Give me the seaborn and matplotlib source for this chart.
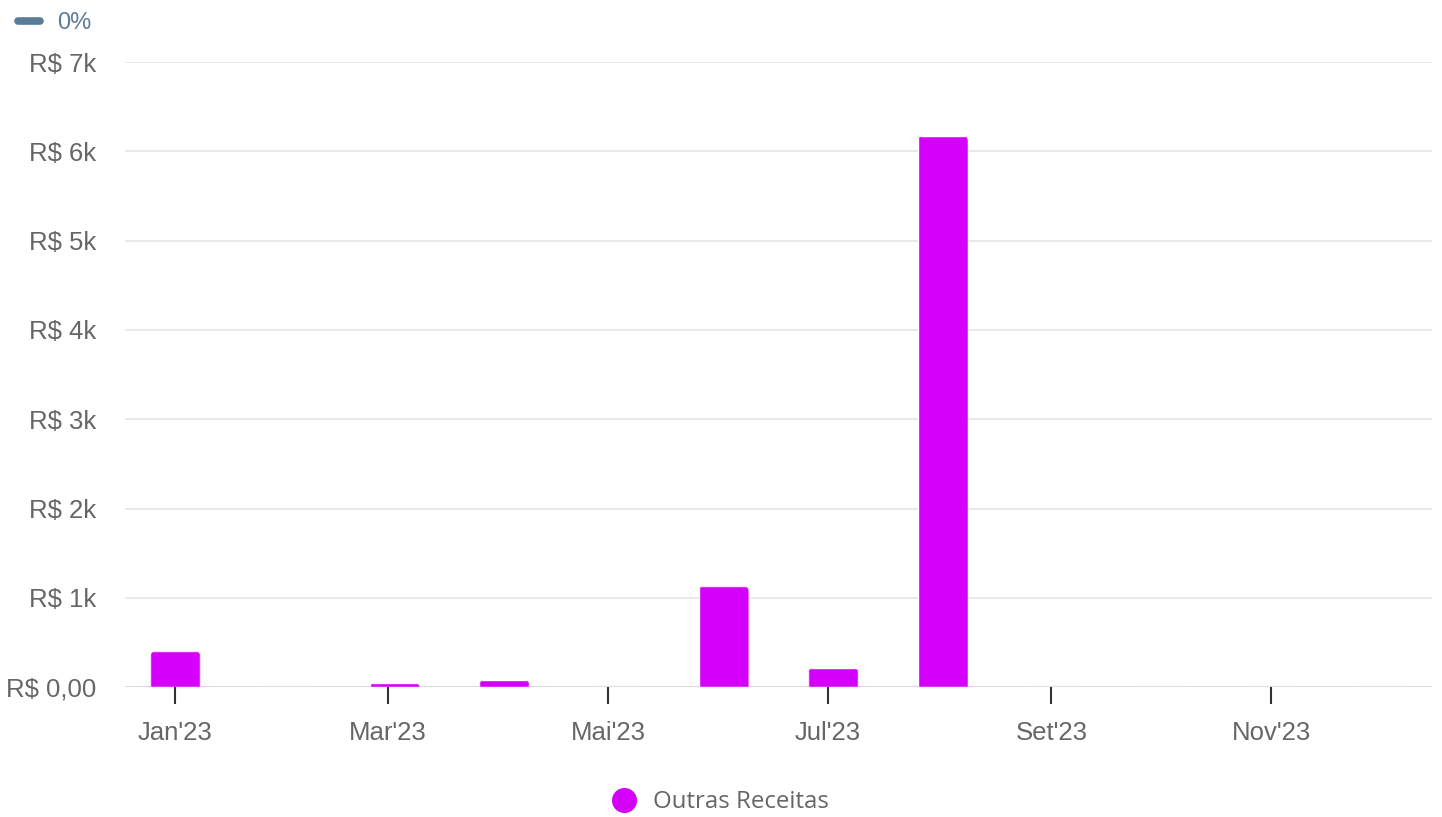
import matplotlib
matplotlib.use("Agg")
import matplotlib.pyplot as plt
import seaborn as sns
import pandas as pd
from matplotlib.lines import Line2D
from matplotlib.patches import FancyBboxPatch

# valores (R$)
meses = ["Jan'23", "Fev'23", "Mar'23", "Abr'23", "Mai'23", "Jun'23",
         "Jul'23", "Ago'23", "Set'23", "Out'23", "Nov'23", "Dez'23"]
outras_receitas = [400, 0, 45, 80, 0, 1130, 215, 6175, 0, 0, 0, 0]
y_ticks = [0, 1000, 2000, 3000, 4000, 5000, 6000, 7000]
y_labels = ["R$ 0,00", "R$ 1k", "R$ 2k", "R$ 3k", "R$ 4k", "R$ 5k", "R$ 6k", "R$ 7k"]

df = pd.DataFrame({"mes": meses, "valor": outras_receitas})

sns.set_theme(style="white")
plt.rcParams['font.family'] = ['Liberation Sans', 'DejaVu Sans']

fig = plt.figure(figsize=(14.42, 8.17), dpi=100)
ax = fig.add_axes([0.0867, 0.159, 0.9063, 0.765])

sns.barplot(data=df, x="mes", y="valor", color="#D500F9", width=0.456,
            saturation=1, ax=ax, zorder=3)

ax.set_ylim(0, 7000)
ax.set_xlim(-0.46, 11.46)
ax.set_yticks(y_ticks)
ax.set_yticklabels(y_labels)

# eixo original e temporal: marcas no 1o dia de cada mes (a cada 2 meses)
datas = pd.date_range("2023-01-01", periods=12, freq="MS")
pos_ticks = [(d - datas[0]).days / (365 / 12) for d in datas[::2]]
ax.set_xticks(pos_ticks)
ax.set_xticklabels(meses[::2])
ax.set_xlabel("")
ax.set_ylabel("")

for t in y_ticks[1:]:
    ax.axhline(t, color="#e6e6e6", lw=1.2, zorder=1)
ax.axhline(0, color="#d8d8d8", lw=2.2, zorder=2)

for s in ax.spines.values():
    s.set_visible(False)

ax.tick_params(axis="y", length=0, pad=21, labelsize=18.5, labelcolor="#666666")
ax.tick_params(axis="x", length=12, width=1.5, color="#333333", pad=12.5,
               labelsize=18.5, labelcolor="#666666", direction="out")
ax.xaxis.set_ticks_position("bottom")

# cantos superiores arredondados nas barras
fig.canvas.draw()
p0 = ax.transData.transform((0, 0))
p1 = ax.transData.transform((1, 1000))
px_x = p1[0] - p0[0]
px_y = (p1[1] - p0[1]) / 1000
raio = 5.5 / px_x
aspecto = (1 / px_y) / (1 / px_x)
for bar in ax.patches:
    h = bar.get_height()
    if h <= 0:
        continue
    x0 = bar.get_x()
    w = bar.get_width()
    clip = FancyBboxPatch((x0, -500), w, h + 500,
                          boxstyle=f"round,pad=0,rounding_size={raio}",
                          mutation_aspect=aspecto, transform=ax.transData,
                          facecolor="none", edgecolor="none")
    ax.add_patch(clip)
    bar.set_clip_path(clip)

# legenda inferior
h1 = Line2D([], [], marker="o", linestyle="none", markersize=17,
            markerfacecolor="#D500F9", markeredgecolor="#D500F9")
fig.legend([h1], ["Outras Receitas"], loc="center", bbox_to_anchor=(0.4952, 0.018),
           frameon=False, handletextpad=0.2,
           prop={"family": "Open Sans", "size": 17.3}, labelcolor="#666666")

# legenda superior
h2 = Line2D([], [], color="#5b7c99", lw=5.5, solid_capstyle="round")
fig.legend([h2], ["0%"], loc="center left", bbox_to_anchor=(-0.0025, 0.972),
           frameon=False, handlelength=0.95, handletextpad=0.72,
           prop={"family": "Liberation Sans", "size": 17}, labelcolor="#5b7c99")

fig.savefig("out.png", dpi=100)
